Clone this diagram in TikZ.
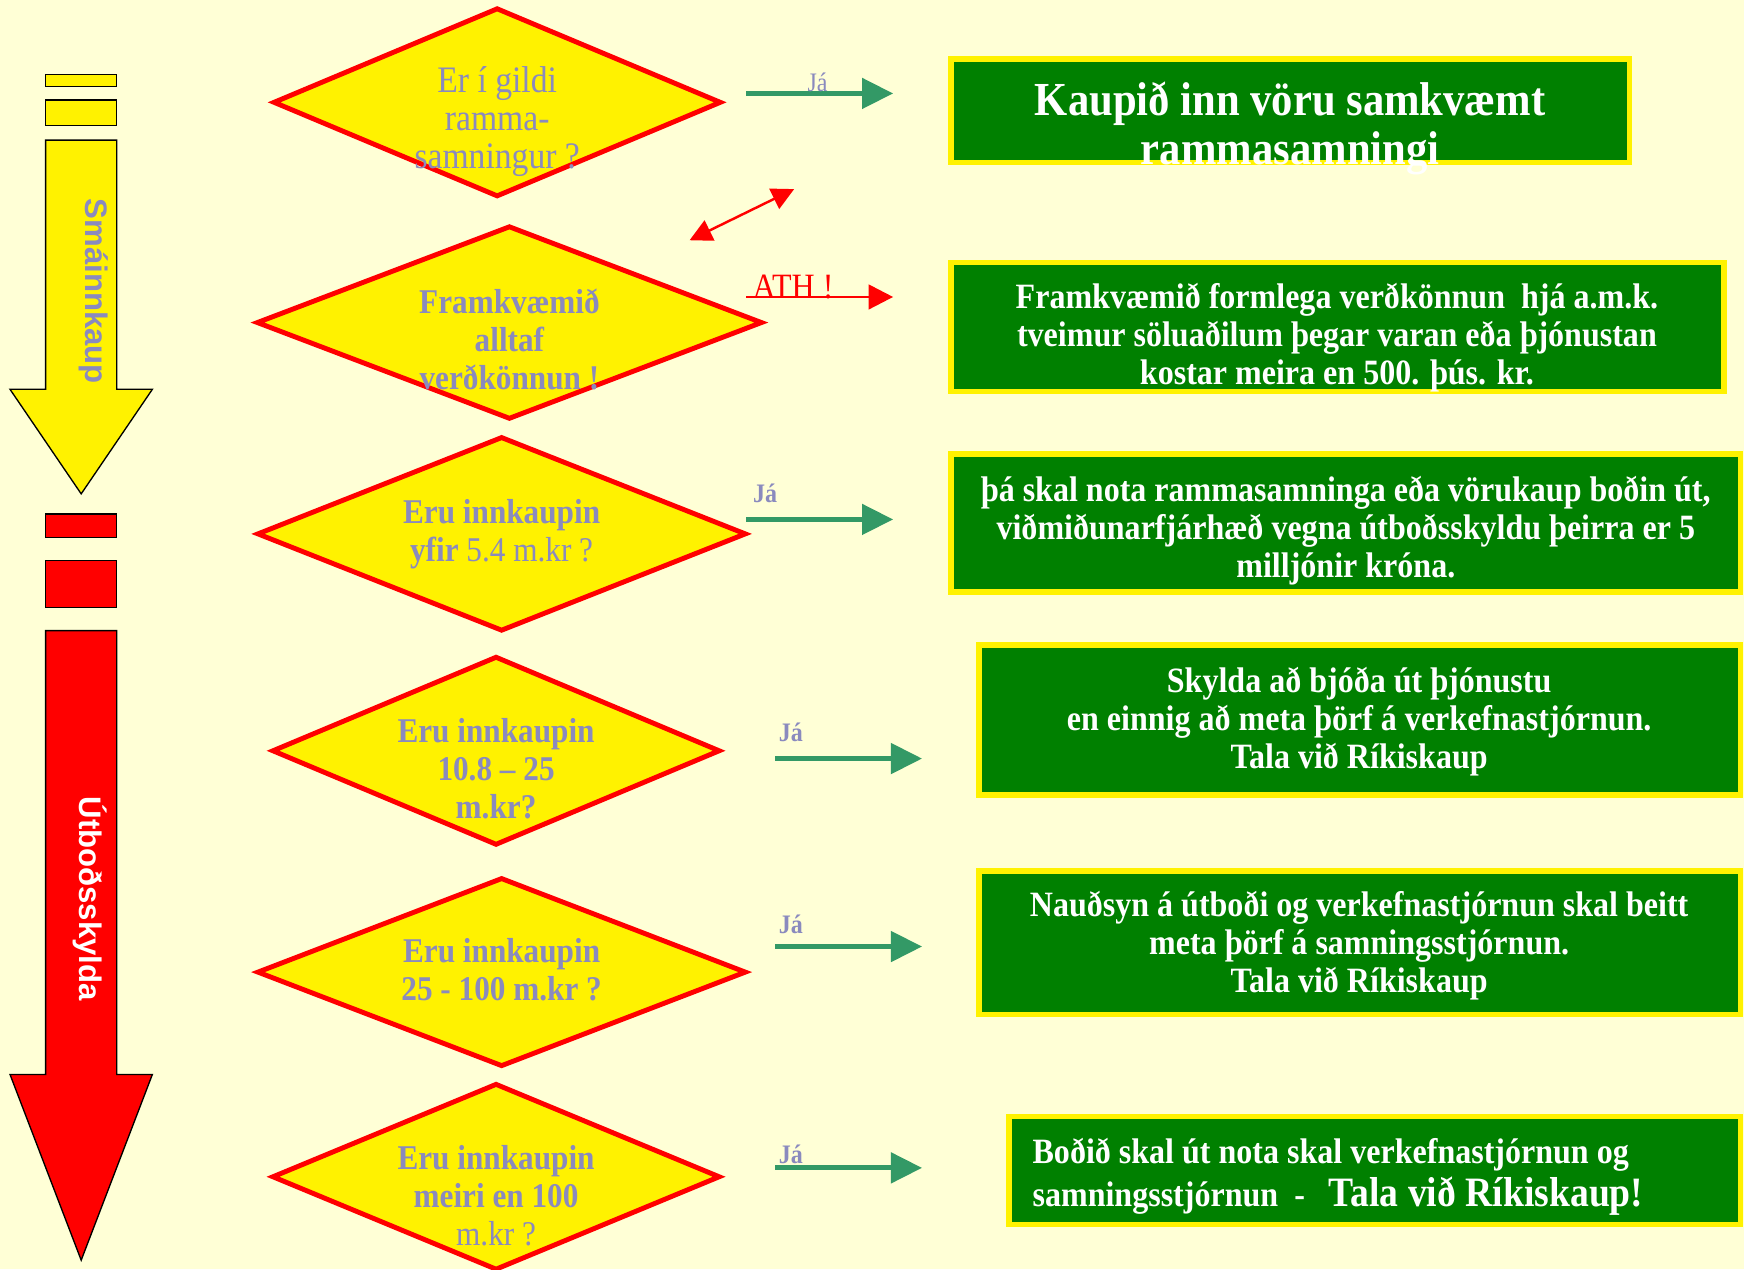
\documentclass[tikz,border=0pt]{standalone}
\usepackage{fontspec}
\setmainfont{Liberation Serif}[FakeStretch=0.9]
\newfontfamily\lsans{Liberation Sans}
\usetikzlibrary{shapes.geometric,arrows.meta}
\definecolor{bgc}{RGB}{255,255,214}
\definecolor{lav}{RGB}{138,138,190}
\definecolor{boxgreen}{RGB}{0,128,0}
\definecolor{arrgreen}{RGB}{51,153,102}
\tikzset{
  dia/.style={diamond, draw=red, fill=yellow, line width=2.2pt, inner sep=0pt},
  dtxt/.style={text=lav, font=\fontsize{15.6}{17}\selectfont\bfseries, align=center, inner sep=0pt},
  gbox/.style={rectangle, draw=yellow, fill=boxgreen, line width=2.5pt, inner sep=0pt},
  gtxt/.style={text=white, font=\fontsize{16}{17}\selectfont\bfseries, align=center, inner sep=0pt},
  garrow/.style={draw=arrgreen, line width=2.2pt, -{Triangle[length=14pt,width=13.5pt]}},
  jalabel/.style={text=lav, font=\fontsize{12}{14}\selectfont\bfseries, inner sep=0pt},
  sidebox/.style={draw=black, line width=0.6pt},
}
\begin{document}
\begin{tikzpicture}[x=0.5pt,y=-0.5pt]
\fill[bgc] (0,0) rectangle (1568,1141);
\useasboundingbox (0,0) rectangle (1568,1141);

% left side arrows
\filldraw[sidebox, fill=yellow] (41,67) rectangle (105,78);
\filldraw[sidebox, fill=yellow] (41,90) rectangle (105,113);
\filldraw[sidebox, fill=yellow] (41,126) -- (105,126) -- (105,350) -- (137,350) -- (73,444) -- (9,350) -- (41,350) -- cycle;
\filldraw[sidebox, fill=red] (41,462) rectangle (105,483);
\filldraw[sidebox, fill=red] (41,504) rectangle (105,546);
\filldraw[sidebox, fill=red] (41,567) -- (105,567) -- (105,966) -- (137,966) -- (73,1133) -- (9,966) -- (41,966) -- cycle;
\node[rotate=-90, text=lav, font=\lsans\fontsize{14}{16}\selectfont\bfseries, inner sep=0pt] (lsmall) at (84,262) {Smáinnkaup};
\node[rotate=-90, text=white, font=\lsans\fontsize{14}{16}\selectfont\bfseries, inner sep=0pt] (lutb) at (81,808) {Útboðsskylda};

% diamonds
\node[dia, minimum width=201.5pt, minimum height=85pt] (d1) at (447,92) {};
\node[dia, minimum width=227.5pt, minimum height=87pt] (d2) at (458,290) {};
\node[dia, minimum width=220pt, minimum height=87.5pt] (d3) at (451,480) {};
\node[dia, minimum width=201.5pt, minimum height=85pt] (d4) at (446,675) {};
\node[dia, minimum width=220pt, minimum height=85pt] (d5) at (451,874) {};
\node[dia, minimum width=201.5pt, minimum height=84pt] (d6) at (446,1058) {};

\node[dtxt, font=\fontsize{16.8}{17}\selectfont] (t1) at (447,109) {Er í gildi\\ramma-\\samningur ?};
\node[dtxt] (t2) at (458,305) {Framkvæmið\\alltaf\\verðkönnun !};
\node[dtxt] (t3) at (451,480.5) {Eru innkaupin\\yfir {\mdseries 5.4 m.kr ?}};
\node[dtxt] (t4) at (446,691) {Eru innkaupin\\10.8 – 25\\m.kr?};
\node[dtxt] (t5) at (451,872) {Eru innkaupin\\25 - 100 m.kr ?};
\node[dtxt] (t6) at (446,1075) {Eru innkaupin\\meiri en 100\\{\mdseries m.kr ?}};

% green boxes
\node[gbox, minimum width=305pt, minimum height=46.5pt] (b1) at (1160,99.5) {};
\node[gbox, minimum width=347.5pt, minimum height=58pt] (b2) at (1202.5,294) {};
\node[gbox, minimum width=355pt, minimum height=62pt] (b3) at (1210,470) {};
\node[gbox, minimum width=342.5pt, minimum height=67.5pt] (b4) at (1222.5,647.5) {};
\node[gbox, minimum width=342.5pt, minimum height=64.5pt] (b5) at (1222.5,847.5) {};
\node[gbox, minimum width=329pt, minimum height=48.5pt] (b6) at (1236,1052.5) {};

\node[gtxt, font=\fontsize{21.3}{22}\selectfont\bfseries] (g1) at (1160,115) {Kaupið inn vöru samkvæmt\\rammasamningi};
\node[gtxt] (g2) at (1202,303.5) {Framkvæmið formlega verðkönnun\ \ hjá a.m.k.\\tveimur söluaðilum þegar varan eða þjónustan\\kostar meira en 500. þús. kr.};
\node[gtxt] (g3) at (1210,477) {þá skal nota rammasamninga eða vörukaup boðin út,\\viðmiðunarfjárhæð vegna útboðsskyldu þeirra er 5\\milljónir króna.};
\node[gtxt] (g4) at (1222,649) {Skylda að bjóða út þjónustu\\en einnig að meta þörf á verkefnastjórnun.\\Tala við Ríkiskaup};
\node[gtxt] (g5) at (1222,850) {Nauðsyn á útboði og verkefnastjórnun skal beitt\\meta þörf á samningsstjórnun.\\Tala við Ríkiskaup};
\node[gtxt, align=left, anchor=west, font=\fontsize{16}{19}\selectfont\bfseries] (g6) at (928,1058) {Boðið skal út nota skal verkefnastjórnun og\\samningsstjórnun\ \ -\ \ \ {\fontsize{18.8}{19}\selectfont Tala við Ríkiskaup!}};

% connectors
\coordinate (a1s) at (671,84);  \coordinate (a1e) at (803,84);
\coordinate (a2s) at (671,267); \coordinate (a2e) at (803,267);
\coordinate (a3s) at (671,467); \coordinate (a3e) at (803,467);
\coordinate (a4s) at (697,682); \coordinate (a4e) at (829,682);
\coordinate (a5s) at (697,851); \coordinate (a5e) at (829,851);
\coordinate (a6s) at (697,1050); \coordinate (a6e) at (829,1050);
\coordinate (r1) at (620,216); \coordinate (r2) at (714,170);

\draw[garrow] (a1s) -- (a1e);
\draw[garrow] (a3s) -- (a3e);
\draw[garrow] (a4s) -- (a4e);
\draw[garrow] (a5s) -- (a5e);
\draw[garrow] (a6s) -- (a6e);
\draw[draw=red, line width=1.3pt, -{Triangle[length=11pt,width=11pt]}] (a2s) -- (a2e);
\draw[draw=red, line width=1.1pt, {Triangle[length=10pt,width=10pt]}-{Triangle[length=10pt,width=10pt]}] (r1) -- (r2);

\node[jalabel, font=\fontsize{12}{14}\selectfont] (j1) at (735,74) {Já};
\node[text=red, font=\fontsize{16}{17}\selectfont, inner sep=0pt, anchor=base] (ath) at (713,268) {ATH !};
\node[jalabel] (j3) at (688,444) {Já};
\node[jalabel] (j4) at (711,658) {Já};
\node[jalabel] (j5) at (711,831) {Já};
\node[jalabel] (j6) at (711,1038) {Já};
\end{tikzpicture}
\end{document}
